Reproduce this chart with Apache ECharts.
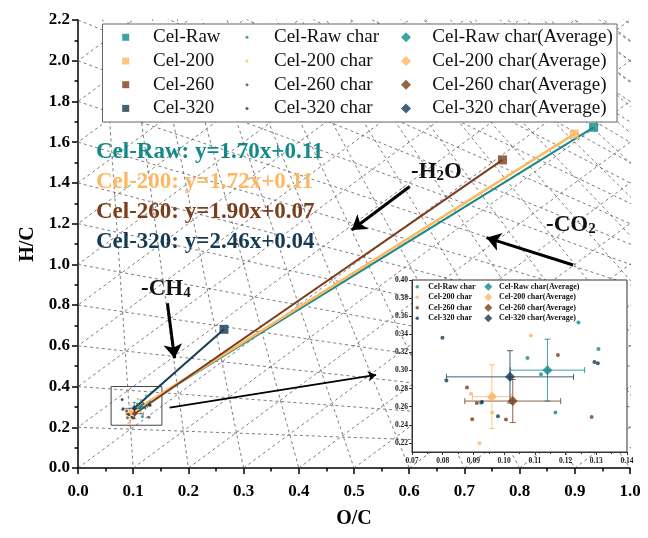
<!DOCTYPE html>
<html><head><meta charset="utf-8">
<script src="https://cdn.jsdelivr.net/npm/echarts@6/dist/echarts.min.js"></script>
<style>html,body{margin:0;padding:0;background:#fff}#c{width:648px;height:538px}</style>
</head><body><div id="c"></div>
<script>
// ---------- data ----------
const groups = ['Cel-Raw', 'Cel-200', 'Cel-260', 'Cel-320'];
const colors = ['#14898a', '#fdb863', '#7b3d1c', '#163a52'];
const feedOC = [0.934, 0.899, 0.769, 0.2645];
const feedHC = [1.673, 1.640, 1.513, 0.681];
const charRawOC = [0.1242, 0.1307, 0.1076, 0.1120, 0.1167, 0.0925];
const charRawHC = [0.3531, 0.3238, 0.3139, 0.2960, 0.2535, 0.2645];
const char200OC = [0.1087, 0.0892, 0.0961, 0.0920, 0.0965, 0.0955];
const char200HC = [0.3388, 0.2744, 0.2535, 0.2198, 0.2725, 0.2700];
const char260OC = [0.1175, 0.0879, 0.0911, 0.0896, 0.1006, 0.1285];
const char260HC = [0.3172, 0.2813, 0.2641, 0.2462, 0.2458, 0.2487];
const char320OC = [0.0799, 0.0812, 0.0928, 0.0980, 0.1294, 0.1305];
const char320HC = [0.3363, 0.2890, 0.2652, 0.2495, 0.3095, 0.3080];
const avgOC = [0.1141, 0.0960, 0.1028, 0.1019];
const avgHC = [0.3004, 0.2711, 0.2663, 0.2930];
const errOC = [0.0121, 0.0063, 0.0156, 0.0207];
const errHC = [0.0342, 0.0352, 0.0238, 0.0289];
const equations = ['Cel-Raw: y=1.70x+0.11', 'Cel-200: y=1.72x+0.11', 'Cel-260: y=1.90x+0.07', 'Cel-320: y=2.46x+0.04'];
const insetYTicks = [0.22, 0.24, 0.26, 0.28, 0.30, 0.32, 0.34, 0.36, 0.38, 0.40];
// reaction guide lines: CO2 and CH4 pencils, H2O parallel (slope 2)
const poleCO2 = [2, 0], poleCH4 = [0, 4], slopeH2O = 2;
// annotation arrows [x1,y1,x2,y2] in data units
const arrowH2O = [0.601, 1.382, 0.496, 1.169];
const arrowCO2 = [0.897, 0.997, 0.740, 1.131];
const arrowCH4 = [0.162, 0.809, 0.175, 0.539];
const arrowZoom = [0.166, 0.296, 0.540, 0.457];
const boxOC = [0.06, 0.152], boxHC = [0.21, 0.40];

const charOC = [charRawOC, char200OC, char260OC, char320OC];
const charHC = [charRawHC, char200HC, char260HC, char320HC];
const FF = '"Liberation Serif", "Times New Roman", serif';

// ---------- series ----------
const series = [];
const dashStyle = {color: '#5a5a5a', width: 0.8, type: [3, 3]};
function seg(p, q) {
  series.push({type: 'line', xAxisIndex: 0, yAxisIndex: 0, data: [p, q], symbol: 'none', silent: true,
    z: 1, clip: true, lineStyle: dashStyle, animation: false});
}
for (let k = 1; k <= 22; k++) seg(poleCH4, [0.1 * k, 0]);
for (let j = 1; j <= 21; j++) seg([0, 0.2 * j], poleCO2);
for (let k = -10; k <= 9; k++) seg([0.1 * k, 0], [0.1 * k + 2.2 / slopeH2O, 2.2]);

function errBar(i, xi, yi, cap, lw, z) {
  return {type: 'custom', xAxisIndex: xi, yAxisIndex: yi, silent: true, z: z,
    data: [[avgOC[i], avgHC[i], errOC[i], errHC[i]]],
    renderItem(params, api) {
      const x = api.value(0), y = api.value(1), ex = api.value(2), ey = api.value(3);
      const l = api.coord([x - ex, y]), r = api.coord([x + ex, y]);
      const t = api.coord([x, y + ey]), b = api.coord([x, y - ey]);
      const st = {stroke: colors[i], lineWidth: lw, opacity: 0.8};
      const L = (x1, y1, x2, y2) => ({type: 'line', shape: {x1, y1, x2, y2}, style: st});
      return {type: 'group', children: [
        L(l[0], l[1], r[0], r[1]), L(t[0], t[1], b[0], b[1]),
        L(l[0], l[1] - cap, l[0], l[1] + cap), L(r[0], r[1] - cap, r[0], r[1] + cap),
        L(t[0] - cap, t[1], t[0] + cap, t[1]), L(b[0] - cap, b[1], b[0] + cap, b[1])
      ]};
    }};
}

groups.forEach((g, i) => {
  const pts = charOC[i].map((v, k) => [v, charHC[i][k]]);
  // main grid
  series.push({type: 'line', name: g + ' fit', xAxisIndex: 0, yAxisIndex: 0, z: 3, symbol: 'none',
    data: [[avgOC[i], avgHC[i]], [feedOC[i], feedHC[i]]], lineStyle: {color: colors[i], width: i === 1 ? 2.6 : 2}, itemStyle: {color: colors[i]}});
  series.push({type: 'scatter', name: g, xAxisIndex: 0, yAxisIndex: 0, z: 4, symbol: 'rect', symbolSize: 9,
    data: [[feedOC[i], feedHC[i]]], itemStyle: {color: colors[i]}});
  const cs = {type: 'scatter', name: g + ' char', xAxisIndex: 0, yAxisIndex: 0, z: 4, symbol: 'circle', symbolSize: 3,
    data: pts, itemStyle: {color: colors[i]}};
  if (i === 0) {
    cs.markArea = {silent: true, itemStyle: {color: 'rgba(0,0,0,0)', borderColor: '#444', borderWidth: 1},
      data: [[{coord: [boxOC[0], boxHC[0]]}, {coord: [boxOC[1], boxHC[1]]}]]};
  }
  series.push(cs);
  series.push(errBar(i, 0, 0, 1.5, 0.8, 4));
  series.push({type: 'scatter', name: g + ' char(Average)', xAxisIndex: 0, yAxisIndex: 0, z: 5, symbol: 'diamond', symbolSize: 6,
    data: [[avgOC[i], avgHC[i]]], itemStyle: {color: colors[i]}});
  // inset grid
  series.push({type: 'scatter', name: g + ' char', xAxisIndex: 1, yAxisIndex: 1, z: 4, symbol: 'circle', symbolSize: 4,
    data: pts, itemStyle: {color: colors[i]}});
  series.push(errBar(i, 1, 1, 3, 1, 4));
  series.push({type: 'scatter', name: g + ' char(Average)', xAxisIndex: 1, yAxisIndex: 1, z: 5, symbol: 'diamond', symbolSize: 10,
    data: [[avgOC[i], avgHC[i]]], itemStyle: {color: colors[i]}});
});

function arrow(a, w, s) {
  series.push({type: 'lines', coordinateSystem: 'cartesian2d', xAxisIndex: 0, yAxisIndex: 0, z: 6, silent: true,
    symbol: ['none', 'arrow'], symbolSize: s, lineStyle: {color: '#000', width: w, opacity: 1, curveness: 0},
    data: [{coords: [[a[0], a[1]], [a[2], a[3]]]}]});
}
arrow(arrowH2O, 3, 14); arrow(arrowCO2, 3, 14); arrow(arrowCH4, 3, 14); arrow(arrowZoom, 1.8, 8);

// ---------- axes ----------
const axLbl = {fontFamily: FF, fontWeight: 'bold', fontSize: 17, color: '#000'};
const inLbl = {fontFamily: FF, fontWeight: 'bold', fontSize: 7.5, color: '#222'};
const legText = pad => ({fontFamily: FF, fontSize: 19, color: '#111', lineHeight: 20, padding: [0, 0, 0, pad]});
const insText = pad => ({fontFamily: FF, fontSize: 8, fontWeight: 'bold', color: '#111', lineHeight: 10, padding: [0, 0, 0, pad]});

const option = {
  animation: false,
  backgroundColor: '#fff',
  grid: [
    {left: 78, right: 18, top: 20, bottom: 70},
    {left: 412, right: 21, top: 280, bottom: 86, show: true, backgroundColor: '#fff', borderColor: '#333', borderWidth: 1, z: 2}
  ],
  xAxis: [
    {gridIndex: 0, type: 'value', min: 0, max: 1, interval: 0.1,
      axisLine: {onZero: false, lineStyle: {color: '#000', width: 1.5}},
      axisTick: {length: 6, lineStyle: {color: '#000', width: 1.5}},
      minorTick: {show: true, splitNumber: 2, length: 3.5, lineStyle: {color: '#000', width: 1.5}},
      splitLine: {show: false},
      axisLabel: Object.assign({margin: 15, formatter: v => v.toFixed(1)}, axLbl),
      name: 'O/C', nameLocation: 'middle', nameGap: 41,
      nameTextStyle: {fontFamily: FF, fontWeight: 'bold', fontSize: 20, color: '#000'}},
    {gridIndex: 1, type: 'value', min: 0.07, max: 0.14, interval: 0.01, z: 3,
      axisLine: {onZero: false, lineStyle: {color: '#333', width: 1}},
      axisTick: {length: 3, lineStyle: {color: '#333'}},
      minorTick: {show: true, splitNumber: 2, length: 2, lineStyle: {color: '#333'}},
      splitLine: {show: false},
      axisLabel: Object.assign({margin: 5, formatter: v => v.toFixed(2)}, inLbl)}
  ],
  yAxis: [
    {gridIndex: 0, type: 'value', min: 0, max: 2.2, interval: 0.2,
      axisLine: {onZero: false, lineStyle: {color: '#000', width: 1.5}},
      axisTick: {length: 6, lineStyle: {color: '#000', width: 1.5}},
      minorTick: {show: true, splitNumber: 2, length: 3.5, lineStyle: {color: '#000', width: 1.5}},
      splitLine: {show: false},
      axisLabel: Object.assign({margin: 8, formatter: v => v.toFixed(1)}, axLbl),
      name: 'H/C', nameLocation: 'middle', nameGap: 35, nameRotate: 90,
      nameTextStyle: {fontFamily: FF, fontWeight: 'bold', fontSize: 20, color: '#000'}},
    {gridIndex: 1, type: 'value', min: 0.21, max: 0.40, z: 3,
      axisLine: {onZero: false, lineStyle: {color: '#333', width: 1}},
      axisTick: {length: 3, customValues: insetYTicks, lineStyle: {color: '#333'}},
      splitLine: {show: false},
      axisLabel: Object.assign({margin: 4, customValues: insetYTicks, formatter: v => v.toFixed(2)}, inLbl)}
  ],
  legend: [
    {orient: 'vertical', left: 122.2, top: 27.3, padding: 0, itemWidth: 7, itemHeight: 7, itemGap: 3.7,
      data: groups, textStyle: legText(18.8), selectedMode: false},
    {orient: 'vertical', left: 245.5, top: 27.3, padding: 0, itemWidth: 3, itemHeight: 3, itemGap: 3.7,
      data: groups.map(g => g + ' char'), textStyle: legText(20.5), selectedMode: false},
    {orient: 'vertical', left: 401, top: 27.3, padding: 0, itemWidth: 10, itemHeight: 10, itemGap: 3.7,
      data: groups.map(g => g + ' char(Average)'), textStyle: legText(16.3), selectedMode: false},
    {orient: 'vertical', left: 415.5, top: 281.7, padding: 0, itemWidth: 3.5, itemHeight: 3.5, itemGap: 0.5,
      data: groups.map(g => g + ' char'), textStyle: insText(4.3), selectedMode: false},
    {orient: 'vertical', left: 484.3, top: 281.7, padding: 0, itemWidth: 8, itemHeight: 8, itemGap: 0.5,
      data: groups.map(g => g + ' char(Average)'), textStyle: insText(1.7), selectedMode: false}
  ],
  graphic: [
    {type: 'rect', z: 2, shape: {x: 102.5, y: 24, width: 514.5, height: 98},
      style: {fill: '#fff', stroke: '#666', lineWidth: 1}},
    ...equations.map((t, i) => ({type: 'text', z: 6, x: 96, y: 151.7 + 30 * i,
      style: {text: t, fill: colors[i], font: 'bold 23px ' + FF, align: 'left', verticalAlign: 'middle'}})),
    {type: 'text', z: 6, x: 411, y: 161,
      style: {text: '{a|-H}{s|2}{a|O}', rich: {a: {font: 'bold 23px ' + FF, fill: '#111', verticalAlign: 'bottom'},
        s: {font: 'bold 15px ' + FF, fill: '#111', verticalAlign: 'bottom', lineHeight: 8}}}},
    {type: 'text', z: 6, x: 546, y: 214,
      style: {text: '{a|-CO}{s|2}', rich: {a: {font: 'bold 23px ' + FF, fill: '#111', verticalAlign: 'bottom'},
        s: {font: 'bold 15px ' + FF, fill: '#111', verticalAlign: 'bottom', lineHeight: 8}}}},
    {type: 'text', z: 6, x: 141, y: 278,
      style: {text: '{a|-CH}{s|4}', rich: {a: {font: 'bold 23px ' + FF, fill: '#111', verticalAlign: 'bottom'},
        s: {font: 'bold 15px ' + FF, fill: '#111', verticalAlign: 'bottom', lineHeight: 8}}}}
  ],
  series: series
};
const chart = echarts.init(document.getElementById('c'), null, {renderer: 'canvas'});
chart.setOption(option);
</script></body></html>
